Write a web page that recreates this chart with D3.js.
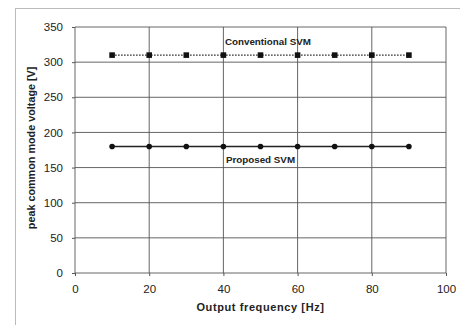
<!DOCTYPE html>
<html>
<head>
<meta charset="utf-8">
<script src="https://cdn.jsdelivr.net/npm/d3@7"></script>
<style>
  html, body { margin: 0; padding: 0; background: #fff; }
  svg { display: block; }
  text { font-family: "Liberation Sans", Arial, sans-serif; fill: #222; }
</style>
</head>
<body>
<svg id="chart" width="460" height="325"></svg>
<script>
// Output frequency [Hz]
const frequencies = [10, 20, 30, 40, 50, 60, 70, 80, 90];
// Peak common mode voltage [V]
const conventionalSVM = [310, 310, 310, 310, 310, 310, 310, 310, 310];
const proposedSVM = [180, 180, 180, 180, 180, 180, 180, 180, 180];
const xTicks = [0, 20, 40, 60, 80, 100];
const yTicks = [0, 50, 100, 150, 200, 250, 300, 350];

const svg = d3.select("#chart");
const margin = { left: 75, right: 14, top: 27, bottom: 52 };
const W = 460, H = 325;

const x = d3.scaleLinear().domain([0, 100]).range([margin.left, W - margin.right]);
const y = d3.scaleLinear().domain([0, 350]).range([H - margin.bottom, margin.top]);

// outer chart frame
svg.append("rect")
  .attr("x", 15.5).attr("y", 8.5)
  .attr("width", 460).attr("height", 330)
  .attr("fill", "none").attr("stroke", "#bbb").attr("stroke-width", 1);

// gridlines
const grid = svg.append("g");
grid.selectAll(".hg").data(yTicks).join("line")
  .attr("x1", x(0)).attr("x2", x(100))
  .attr("y1", d => y(d)).attr("y2", d => y(d))
  .attr("stroke", "#555").attr("stroke-width", 0.9);
grid.selectAll(".vg").data(xTicks).join("line")
  .attr("y1", y(0)).attr("y2", y(350))
  .attr("x1", d => x(d)).attr("x2", d => x(d))
  .attr("stroke", "#555").attr("stroke-width", 0.9);

// axes
const xAxis = svg.append("g").attr("transform", `translate(0,${y(0)})`)
  .call(d3.axisBottom(x).tickValues(xTicks).tickSize(3).tickPadding(9));
const yAxis = svg.append("g").attr("transform", `translate(${x(0)},0)`)
  .call(d3.axisLeft(y).tickValues(yTicks).tickSize(3).tickPadding(9));
[xAxis, yAxis].forEach(a => {
  a.select(".domain").remove();
  a.selectAll(".tick line").attr("stroke", "#555");
  a.selectAll(".tick text").attr("font-size", 11.5)
    .style("font-family", "'Liberation Sans', Arial, sans-serif").attr("fill", "#333");
});

// series
const line = d3.line().x(d => x(d[0])).y(d => y(d[1]));
const conv = frequencies.map((f, i) => [f, conventionalSVM[i]]);
const prop = frequencies.map((f, i) => [f, proposedSVM[i]]);

svg.append("path").datum(conv).attr("d", line)
  .attr("fill", "none").attr("stroke", "#222").attr("stroke-width", 1.2)
  .attr("stroke-dasharray", "1.5,1.5");
svg.selectAll(".sq").data(conv).join("rect")
  .attr("x", d => x(d[0]) - 2.8).attr("y", d => y(d[1]) - 2.8)
  .attr("width", 5.6).attr("height", 5.6).attr("fill", "#111");

svg.append("path").datum(prop).attr("d", line)
  .attr("fill", "none").attr("stroke", "#222").attr("stroke-width", 1.3);
svg.selectAll(".dot").data(prop).join("circle")
  .attr("cx", d => x(d[0])).attr("cy", d => y(d[1]))
  .attr("r", 2.8).attr("fill", "#111");

// series labels
svg.append("text").attr("x", x(52)).attr("y", y(310) - 10)
  .attr("text-anchor", "middle").attr("font-size", 9.8).attr("font-weight", "bold")
  .text("Conventional SVM");
svg.append("text").attr("x", x(50)).attr("y", y(180) + 17)
  .attr("text-anchor", "middle").attr("font-size", 9.8).attr("font-weight", "bold")
  .text("Proposed SVM");

// axis titles
svg.append("text").attr("x", x(50)).attr("y", 311)
  .attr("text-anchor", "middle").attr("font-size", 11).attr("font-weight", "bold")
  .attr("letter-spacing", 0.6)
  .text("Output frequency [Hz]");
svg.append("text")
  .attr("transform", `translate(35,${y(178)}) rotate(-90)`)
  .attr("text-anchor", "middle").attr("font-size", 10.8).attr("font-weight", "bold")
  .text("peak common mode voltage [V]");
</script>
</body>
</html>
